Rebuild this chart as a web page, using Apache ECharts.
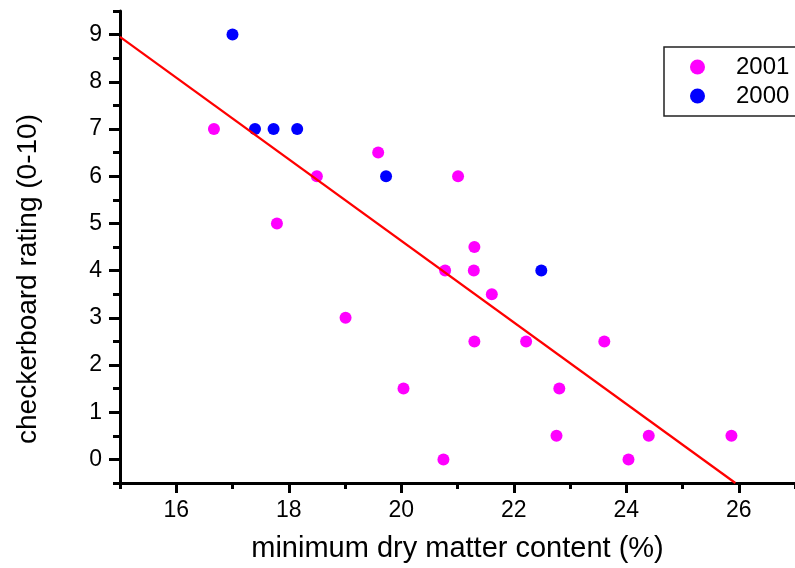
<!DOCTYPE html>
<html>
<head>
<meta charset="utf-8">
<script src="https://cdn.jsdelivr.net/npm/echarts@6/dist/echarts.min.js"></script>
<style>
  html, body { margin: 0; padding: 0; background: #fff; }
  #chart { width: 795px; height: 568px; }
</style>
</head>
<body>
<div id="chart"></div>
<script>
// 2001 season
const x2001 = [16.67, 17.79, 18.5, 19.59, 19.01, 20.04, 20.75, 20.78, 21.01, 21.3, 21.29, 21.3, 21.61, 22.22, 22.81, 22.76, 23.61, 24.04, 24.4, 25.87];
const y2001 = [7, 5, 6, 6.5, 3, 1.5, 0, 4, 6, 4.5, 4, 2.5, 3.5, 2.5, 1.5, 0.5, 2.5, 0, 0.5, 0.5];
// 2000 season
const x2000 = [17.0, 17.4, 17.73, 18.15, 19.73, 22.49];
const y2000 = [9, 7, 7, 7, 6, 4];
// regression line
const fitX = [15, 25.94];
const fitY = [8.95, -0.5];

const xTicks = [16, 18, 20, 22, 24, 26];
const xMinorTicks = [15, 17, 19, 21, 23, 25, 27];
const yTicks = [0, 1, 2, 3, 4, 5, 6, 7, 8, 9];
const yMinorTicks = [-0.5, 0.5, 1.5, 2.5, 3.5, 4.5, 5.5, 6.5, 7.5, 8.5, 9.5];

const FONT = 'Liberation Sans, Arial, sans-serif';
const AXIS_COLOR = '#000';

function zip(xs, ys) {
    return xs.map((x, i) => [x, ys[i]]);
}

// extra axis that only draws a set of ticks
function tickAxis(position, min, max, values, length) {
    return {
        type: 'value',
        min: min, max: max,
        position: position,
        z: 5,
        splitLine: { show: false },
        axisLine: { show: false, onZero: false },
        axisTick: { show: true, length: length, customValues: values, lineStyle: { color: AXIS_COLOR, width: 3 } },
        axisLabel: { show: false }
    };
}

const chart = echarts.init(document.getElementById('chart'), null, { renderer: 'canvas' });

const option = {
    animation: false,
    backgroundColor: '#fff',
    grid: { left: 120, right: -8, top: 11, bottom: 85 },
    legend: {
        data: ['2001', '2000'],
        orient: 'vertical',
        left: 664,
        top: 47,
        padding: [8, 40, 8, 26],
        itemGap: 5,
        itemWidth: 15,
        itemHeight: 15,
        icon: 'circle',
        borderColor: '#222',
        borderWidth: 1.5,
        textStyle: { fontFamily: FONT, fontSize: 24, color: '#000', lineHeight: 24, padding: [0, 0, 0, 26] }
    },
    xAxis: [
        {
            type: 'value',
            min: 15, max: 27,
            splitLine: { show: false },
            axisLine: { show: true, onZero: false, lineStyle: { color: AXIS_COLOR, width: 3 } },
            name: 'minimum dry matter content (%)',
            nameLocation: 'middle',
            nameGap: 51,
            nameTextStyle: { fontFamily: FONT, fontSize: 29, color: '#000' },
            axisTick: { show: false },
            axisLabel: { customValues: xTicks, margin: 16, hideOverlap: false, fontFamily: FONT, fontSize: 23, color: '#000' }
        },
        tickAxis('bottom', 15, 27, xMinorTicks, 6),
        tickAxis('bottom', 15, 27, xTicks, 10)
    ],
    yAxis: [
        {
            type: 'value',
            min: -0.5, max: 9.5,
            splitLine: { show: false },
            axisLine: { show: true, onZero: false, lineStyle: { color: AXIS_COLOR, width: 3 } },
            name: 'checkerboard rating (0-10)',
            nameLocation: 'middle',
            nameGap: 78,
            nameTextStyle: { fontFamily: FONT, fontSize: 28, color: '#000', padding: [0, 64, 0, 0] },
            axisTick: { show: false },
            axisLabel: { customValues: yTicks, margin: 18, hideOverlap: false, fontFamily: FONT, fontSize: 23, color: '#000' }
        },
        tickAxis('left', -0.5, 9.5, yMinorTicks, 7),
        tickAxis('left', -0.5, 9.5, yTicks, 11)
    ],
    series: [
        {
            name: '2001',
            type: 'scatter',
            symbol: 'circle',
            symbolSize: 12,
            itemStyle: { color: '#ff00ff', opacity: 1 },
            data: zip(x2001, y2001),
            z: 6
        },
        {
            name: '2000',
            type: 'scatter',
            symbol: 'circle',
            symbolSize: 12,
            itemStyle: { color: '#0000ff', opacity: 1 },
            data: zip(x2000, y2000),
            z: 6
        },
        {
            name: 'fit',
            type: 'line',
            showSymbol: false,
            lineStyle: { color: '#ff0000', width: 2.2 },
            data: zip(fitX, fitY),
            z: 7
        }
    ]
};

chart.setOption(option);
</script>
</body>
</html>
